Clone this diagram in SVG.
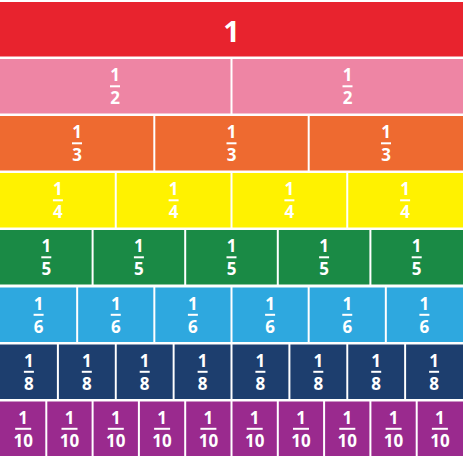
<svg xmlns="http://www.w3.org/2000/svg" width="465" height="460" viewBox="0 0 465 460">
<style>
text{font-family:"Open Sans","Liberation Sans",sans-serif;font-weight:700;fill:#fff;text-anchor:middle}
.n{font-size:17px}
.big{font-size:29px}
.bar{fill:#fff}
.r1{fill:#E8232E}.r2{fill:#EE85A4}.r3{fill:#EE6A30}.r4{fill:#FFF200}.r5{fill:#1A8A45}.r6{fill:#2EA8DF}.r8{fill:#1D3E6E}.r10{fill:#9A2A8E}
</style>
<rect width="465" height="460" fill="#fff"/>
<g id="row-1">
<g id="one"><rect class="r1" x="0" y="2" width="463" height="54.5"/><text class="big" x="231.5" y="41.5">1</text></g>
</g>
<g id="row-2">
<g id="half-1"><rect class="r2" x="0" y="59" width="230.5" height="54.5"/><text class="n" x="115" y="81.3">1</text><rect class="bar" x="110" y="85.3" width="10" height="2"/><text class="n" x="115" y="104.3">2</text></g>
<g id="half-2"><rect class="r2" x="232.5" y="59" width="230.5" height="54.5"/><text class="n" x="347.5" y="81.3">1</text><rect class="bar" x="342.5" y="85.3" width="10" height="2"/><text class="n" x="347.5" y="104.3">2</text></g>
</g>
<g id="row-3">
<g id="third-1"><rect class="r3" x="0" y="116" width="153.3" height="54.5"/><text class="n" x="77" y="138.3">1</text><rect class="bar" x="72" y="142.3" width="10" height="2"/><text class="n" x="77" y="161.3">3</text></g>
<g id="third-2"><rect class="r3" x="155.3" y="116" width="152.4" height="54.5"/><text class="n" x="231.5" y="138.3">1</text><rect class="bar" x="226.5" y="142.3" width="10" height="2"/><text class="n" x="231.5" y="161.3">3</text></g>
<g id="third-3"><rect class="r3" x="309.7" y="116" width="153.3" height="54.5"/><text class="n" x="386" y="138.3">1</text><rect class="bar" x="381" y="142.3" width="10" height="2"/><text class="n" x="386" y="161.3">3</text></g>
</g>
<g id="row-4">
<g id="quarter-1"><rect class="r4" x="0" y="173" width="114.75" height="54.5"/><text class="n" x="57.9" y="195.3">1</text><rect class="bar" x="52.9" y="199.3" width="10" height="2"/><text class="n" x="57.9" y="218.3">4</text></g>
<g id="quarter-2"><rect class="r4" x="116.75" y="173" width="113.75" height="54.5"/><text class="n" x="173.6" y="195.3">1</text><rect class="bar" x="168.6" y="199.3" width="10" height="2"/><text class="n" x="173.6" y="218.3">4</text></g>
<g id="quarter-3"><rect class="r4" x="232.5" y="173" width="113.75" height="54.5"/><text class="n" x="289.4" y="195.3">1</text><rect class="bar" x="284.4" y="199.3" width="10" height="2"/><text class="n" x="289.4" y="218.3">4</text></g>
<g id="quarter-4"><rect class="r4" x="348.25" y="173" width="114.75" height="54.5"/><text class="n" x="405.1" y="195.3">1</text><rect class="bar" x="400.1" y="199.3" width="10" height="2"/><text class="n" x="405.1" y="218.3">4</text></g>
</g>
<g id="row-5">
<g id="fifth-1"><rect class="r5" x="0" y="230" width="91.6" height="54.5"/><text class="n" x="46.3" y="252.3">1</text><rect class="bar" x="41.3" y="256.3" width="10" height="2"/><text class="n" x="46.3" y="275.3">5</text></g>
<g id="fifth-2"><rect class="r5" x="93.6" y="230" width="90.6" height="54.5"/><text class="n" x="138.9" y="252.3">1</text><rect class="bar" x="133.9" y="256.3" width="10" height="2"/><text class="n" x="138.9" y="275.3">5</text></g>
<g id="fifth-3"><rect class="r5" x="186.2" y="230" width="90.6" height="54.5"/><text class="n" x="231.5" y="252.3">1</text><rect class="bar" x="226.5" y="256.3" width="10" height="2"/><text class="n" x="231.5" y="275.3">5</text></g>
<g id="fifth-4"><rect class="r5" x="278.8" y="230" width="90.6" height="54.5"/><text class="n" x="324.1" y="252.3">1</text><rect class="bar" x="319.1" y="256.3" width="10" height="2"/><text class="n" x="324.1" y="275.3">5</text></g>
<g id="fifth-5"><rect class="r5" x="371.4" y="230" width="91.6" height="54.5"/><text class="n" x="416.7" y="252.3">1</text><rect class="bar" x="411.7" y="256.3" width="10" height="2"/><text class="n" x="416.7" y="275.3">5</text></g>
</g>
<g id="row-6">
<g id="sixth-1"><rect class="r6" x="0" y="287.5" width="76.17" height="54.5"/><text class="n" x="38.6" y="309.8">1</text><rect class="bar" x="33.6" y="313.8" width="10" height="2"/><text class="n" x="38.6" y="332.8">6</text></g>
<g id="sixth-2"><rect class="r6" x="78.17" y="287.5" width="75.16" height="54.5"/><text class="n" x="115.75" y="309.8">1</text><rect class="bar" x="110.75" y="313.8" width="10" height="2"/><text class="n" x="115.75" y="332.8">6</text></g>
<g id="sixth-3"><rect class="r6" x="155.33" y="287.5" width="75.17" height="54.5"/><text class="n" x="192.9" y="309.8">1</text><rect class="bar" x="187.9" y="313.8" width="10" height="2"/><text class="n" x="192.9" y="332.8">6</text></g>
<g id="sixth-4"><rect class="r6" x="232.5" y="287.5" width="75.17" height="54.5"/><text class="n" x="270.1" y="309.8">1</text><rect class="bar" x="265.1" y="313.8" width="10" height="2"/><text class="n" x="270.1" y="332.8">6</text></g>
<g id="sixth-5"><rect class="r6" x="309.67" y="287.5" width="75.16" height="54.5"/><text class="n" x="347.25" y="309.8">1</text><rect class="bar" x="342.25" y="313.8" width="10" height="2"/><text class="n" x="347.25" y="332.8">6</text></g>
<g id="sixth-6"><rect class="r6" x="386.83" y="287.5" width="76.17" height="54.5"/><text class="n" x="424.4" y="309.8">1</text><rect class="bar" x="419.4" y="313.8" width="10" height="2"/><text class="n" x="424.4" y="332.8">6</text></g>
</g>
<g id="row-8">
<g id="eighth-1"><rect class="r8" x="0" y="344.5" width="56.9" height="54.5"/><text class="n" x="28.9" y="366.8">1</text><rect class="bar" x="23.9" y="370.8" width="10" height="2"/><text class="n" x="28.9" y="389.8">8</text></g>
<g id="eighth-2"><rect class="r8" x="58.9" y="344.5" width="55.9" height="54.5"/><text class="n" x="86.8" y="366.8">1</text><rect class="bar" x="81.8" y="370.8" width="10" height="2"/><text class="n" x="86.8" y="389.8">8</text></g>
<g id="eighth-3"><rect class="r8" x="116.75" y="344.5" width="55.9" height="54.5"/><text class="n" x="144.7" y="366.8">1</text><rect class="bar" x="139.7" y="370.8" width="10" height="2"/><text class="n" x="144.7" y="389.8">8</text></g>
<g id="eighth-4"><rect class="r8" x="174.6" y="344.5" width="55.9" height="54.5"/><text class="n" x="202.6" y="366.8">1</text><rect class="bar" x="197.6" y="370.8" width="10" height="2"/><text class="n" x="202.6" y="389.8">8</text></g>
<g id="eighth-5"><rect class="r8" x="232.5" y="344.5" width="55.9" height="54.5"/><text class="n" x="260.4" y="366.8">1</text><rect class="bar" x="255.4" y="370.8" width="10" height="2"/><text class="n" x="260.4" y="389.8">8</text></g>
<g id="eighth-6"><rect class="r8" x="290.4" y="344.5" width="55.9" height="54.5"/><text class="n" x="318.3" y="366.8">1</text><rect class="bar" x="313.3" y="370.8" width="10" height="2"/><text class="n" x="318.3" y="389.8">8</text></g>
<g id="eighth-7"><rect class="r8" x="348.25" y="344.5" width="55.9" height="54.5"/><text class="n" x="376.2" y="366.8">1</text><rect class="bar" x="371.2" y="370.8" width="10" height="2"/><text class="n" x="376.2" y="389.8">8</text></g>
<g id="eighth-8"><rect class="r8" x="406.1" y="344.5" width="56.9" height="54.5"/><text class="n" x="434.1" y="366.8">1</text><rect class="bar" x="429.1" y="370.8" width="10" height="2"/><text class="n" x="434.1" y="389.8">8</text></g>
</g>
<g id="row-10">
<g id="tenth-1"><rect class="r10" x="0" y="401.5" width="45.3" height="54.5"/><text class="n" x="23.2" y="423.8">1</text><rect class="bar" x="15.2" y="427.8" width="16" height="2"/><text class="n" x="23.2" y="446.8">10</text></g>
<g id="tenth-2"><rect class="r10" x="47.3" y="401.5" width="44.3" height="54.5"/><text class="n" x="69.5" y="423.8">1</text><rect class="bar" x="61.5" y="427.8" width="16" height="2"/><text class="n" x="69.5" y="446.8">10</text></g>
<g id="tenth-3"><rect class="r10" x="93.6" y="401.5" width="44.3" height="54.5"/><text class="n" x="115.8" y="423.8">1</text><rect class="bar" x="107.8" y="427.8" width="16" height="2"/><text class="n" x="115.8" y="446.8">10</text></g>
<g id="tenth-4"><rect class="r10" x="139.9" y="401.5" width="44.3" height="54.5"/><text class="n" x="162.1" y="423.8">1</text><rect class="bar" x="154.1" y="427.8" width="16" height="2"/><text class="n" x="162.1" y="446.8">10</text></g>
<g id="tenth-5"><rect class="r10" x="186.2" y="401.5" width="44.3" height="54.5"/><text class="n" x="208.4" y="423.8">1</text><rect class="bar" x="200.4" y="427.8" width="16" height="2"/><text class="n" x="208.4" y="446.8">10</text></g>
<g id="tenth-6"><rect class="r10" x="232.5" y="401.5" width="44.3" height="54.5"/><text class="n" x="254.7" y="423.8">1</text><rect class="bar" x="246.7" y="427.8" width="16" height="2"/><text class="n" x="254.7" y="446.8">10</text></g>
<g id="tenth-7"><rect class="r10" x="278.8" y="401.5" width="44.3" height="54.5"/><text class="n" x="301" y="423.8">1</text><rect class="bar" x="293" y="427.8" width="16" height="2"/><text class="n" x="301" y="446.8">10</text></g>
<g id="tenth-8"><rect class="r10" x="325.1" y="401.5" width="44.3" height="54.5"/><text class="n" x="347.3" y="423.8">1</text><rect class="bar" x="339.3" y="427.8" width="16" height="2"/><text class="n" x="347.3" y="446.8">10</text></g>
<g id="tenth-9"><rect class="r10" x="371.4" y="401.5" width="44.3" height="54.5"/><text class="n" x="393.6" y="423.8">1</text><rect class="bar" x="385.6" y="427.8" width="16" height="2"/><text class="n" x="393.6" y="446.8">10</text></g>
<g id="tenth-10"><rect class="r10" x="417.7" y="401.5" width="45.3" height="54.5"/><text class="n" x="439.9" y="423.8">1</text><rect class="bar" x="431.9" y="427.8" width="16" height="2"/><text class="n" x="439.9" y="446.8">10</text></g>
</g>
</svg>
